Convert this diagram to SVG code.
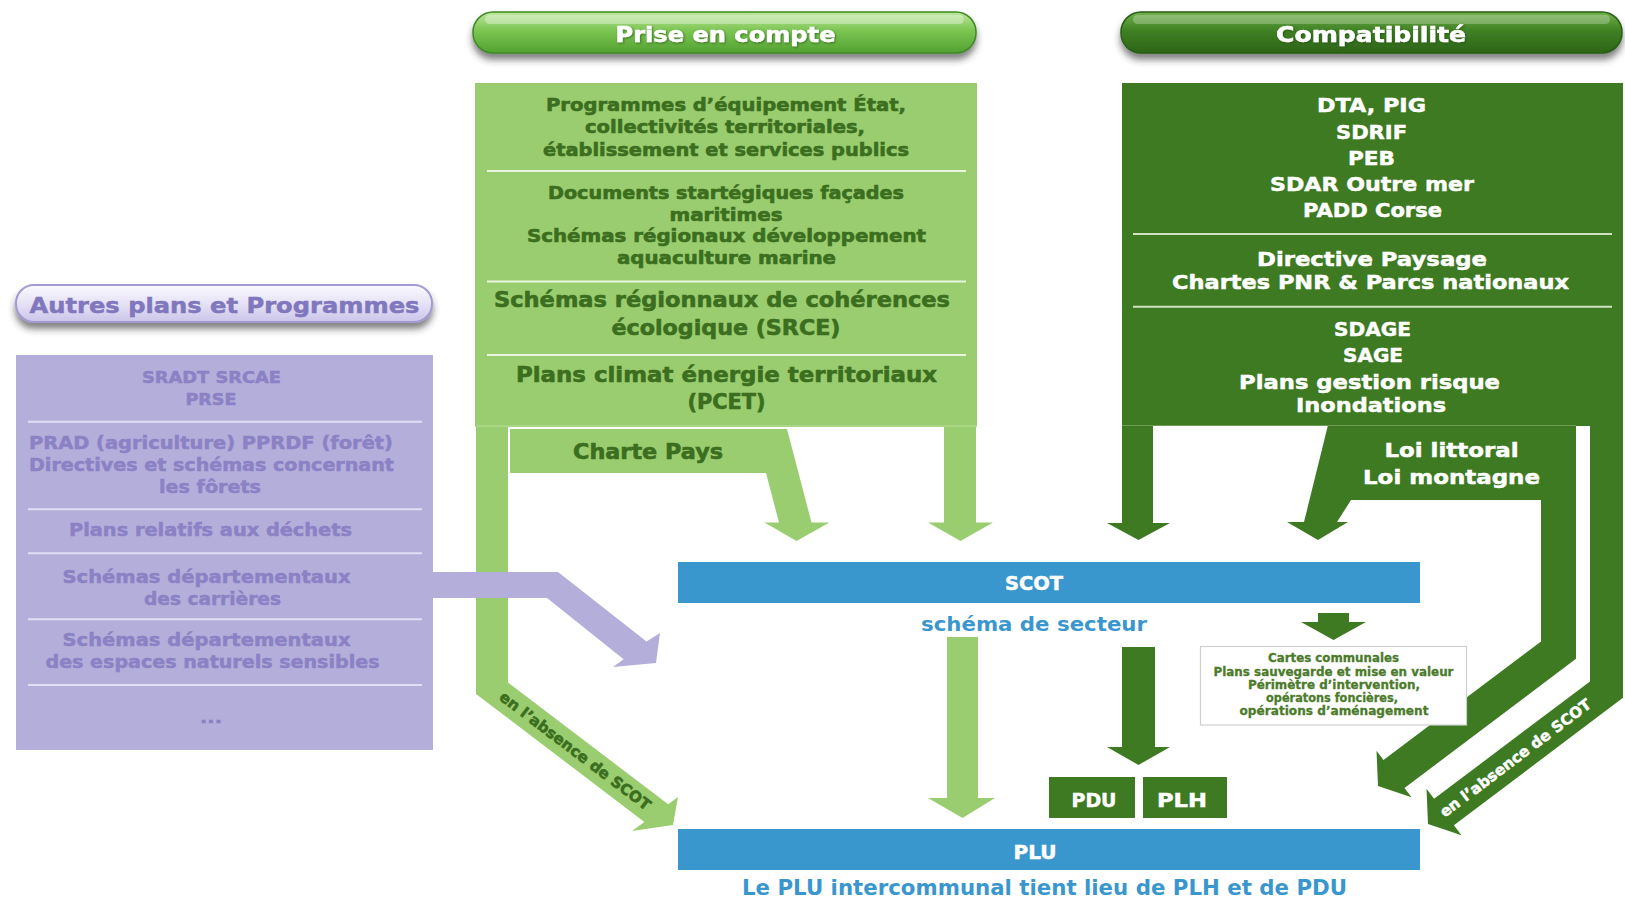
<svg xmlns="http://www.w3.org/2000/svg" width="1625" height="898" viewBox="0 0 1625 898">
<defs>
<linearGradient id="gLight" x1="0" y1="0" x2="0" y2="1">
<stop offset="0" stop-color="#BDE79C"/><stop offset="0.45" stop-color="#7CC552"/><stop offset="1" stop-color="#52A232"/>
</linearGradient>
<linearGradient id="gDark" x1="0" y1="0" x2="0" y2="1">
<stop offset="0" stop-color="#72B14C"/><stop offset="0.45" stop-color="#3F8123"/><stop offset="1" stop-color="#2D6417"/>
</linearGradient>
<linearGradient id="gPurple" x1="0" y1="0" x2="0" y2="1">
<stop offset="0" stop-color="#FBFAFE"/><stop offset="0.5" stop-color="#E6E2F5"/><stop offset="1" stop-color="#CBC5E9"/>
</linearGradient>
<filter id="shadow" x="-10%" y="-30%" width="120%" height="190%">
<feDropShadow dx="0" dy="6" stdDeviation="3.5" flood-color="#2a2a2a" flood-opacity="0.6"/>
</filter>
<filter id="tshadow" x="-5%" y="-20%" width="110%" height="150%">
<feDropShadow dx="1" dy="1" stdDeviation="0.8" flood-color="#1d3d0d" flood-opacity="0.6"/>
</filter>
<style>
text{font-family:"DejaVu Sans","Liberation Sans",sans-serif;font-weight:bold;text-anchor:middle}
.lg{fill:#9ACD6F}
.dg{fill:#3D7A22}
.pu{fill:#B4AEDB}
.bl{fill:#3A97CE}
.tlg{fill:#3B6E1E;stroke:#3B6E1E;stroke-width:0.6}
.tw{fill:#FFFFFF;stroke:#FFFFFF;stroke-width:0.5}
.tpu{fill:#8B81C4;stroke:#8B81C4;stroke-width:0.5}
.tcc{fill:#4B7B2B;stroke:#4B7B2B;stroke-width:0.3}
.sepL{stroke:#EAF5E0;stroke-width:2}
.sepD{stroke:#CFE3C0;stroke-width:2}
.sepP{stroke:#E2DEF3;stroke-width:2}
</style>
</defs>
<rect width="1625" height="898" fill="#FFFFFF"/>

<!-- header pills -->
<g id="pill-prise">
<rect x="473" y="12" width="503" height="41" rx="20" fill="url(#gLight)" stroke="#3F8A25" stroke-width="1.5" filter="url(#shadow)"/>
<rect x="485" y="15" width="479" height="9" rx="4.5" fill="#FFFFFF" opacity="0.35"/>
<text x="725.5" y="41.5" font-size="21" textLength="220" lengthAdjust="spacingAndGlyphs" class="tw" filter="url(#tshadow)">Prise en compte</text>
</g>
<g id="pill-compat">
<rect x="1121" y="12" width="501" height="41" rx="20" fill="url(#gDark)" stroke="#2A5E16" stroke-width="1.5" filter="url(#shadow)"/>
<rect x="1133" y="15" width="477" height="9" rx="4.5" fill="#FFFFFF" opacity="0.25"/>
<text x="1371" y="41.5" font-size="21" textLength="190" lengthAdjust="spacingAndGlyphs" class="tw" filter="url(#tshadow)">Compatibilité</text>
</g>
<g id="pill-autres">
<rect x="16" y="285" width="416" height="37" rx="18" fill="url(#gPurple)" stroke="#A29AD2" stroke-width="2" filter="url(#shadow)"/>
<text x="224.5" y="312.5" font-size="22" textLength="390" lengthAdjust="spacingAndGlyphs" fill="#8077BD" stroke="#8077BD" stroke-width="0.5">Autres plans et Programmes</text>
</g>

<!-- connectors -->
<g id="connectors">
<polygon class="lg" points="476,426 508,426 508,682.5 668.2,804.3 678,797 673,825 632,831 644.4,821.9 476,694"/>
<polygon class="lg" points="510,429 787,429 811.5,522.5 829.5,522.5 796.5,541 764.5,522.5 779,522.5 766,473 510,473"/>
<polygon class="lg" points="944,426 976,426 976,522.5 993,522.5 960.5,541 928,522.5 944,522.5"/>
<polygon class="lg" points="947,637 978,637 978,798 995,798 962.5,818 928,798 947,798"/>
<polygon class="pu" points="433,572 558,572 646.5,641.6 660,633 656,663 613,667 623.6,659.3 547,598 433,598"/>
<polygon class="dg" points="1122,425 1153,425 1153,523 1170,523 1138.5,540 1107,523 1122,523"/>
<polygon class="dg" points="1328,425 1576,425 1576,658.8 1404.5,788 1411.5,797.2 1378,786 1376.5,750.8 1383.5,760 1541,641.4 1541,500 1351,500 1337,522 1348,522 1318,540 1287,522 1304,522"/>
<polygon class="dg" points="1590,425 1623,425 1623,697.8 1453.9,825.2 1461.5,835.2 1428,824 1426.5,788.8 1434.1,798.8 1590,681.4"/>
<polygon class="dg" points="1122,647 1155,647 1155,747 1170,747 1138.5,765 1107,747 1122,747"/>
<polygon class="dg" points="1318,613 1349,613 1349,622 1366,622 1333.5,640 1301,622 1318,622"/>
<text transform="translate(575,751) rotate(37.2)" x="0" y="5" font-size="15" textLength="185" lengthAdjust="spacingAndGlyphs" class="tlg">en l’absence de SCOT</text>
<text transform="translate(1515.5,758.2) rotate(-37)" x="0" y="5" font-size="15" textLength="185" lengthAdjust="spacingAndGlyphs" class="tw">en l’absence de SCOT</text>
<text x="648" y="459" font-size="21" textLength="150" lengthAdjust="spacingAndGlyphs" class="tlg">Charte Pays</text>
<text x="1451.5" y="457" font-size="20" textLength="134" lengthAdjust="spacingAndGlyphs" class="tw">Loi littoral</text>
<text x="1451.5" y="483.5" font-size="20" textLength="177" lengthAdjust="spacingAndGlyphs" class="tw">Loi montagne</text>
</g>

<!-- light green box -->
<g id="prise-box">
<rect x="475" y="83" width="502" height="344" class="lg"/>
<line x1="476" y1="426" x2="977" y2="426" stroke="#B9DF9C" stroke-width="1"/>
<line x1="487" y1="171" x2="966" y2="171" class="sepL"/>
<line x1="487" y1="281.5" x2="966" y2="281.5" class="sepL"/>
<line x1="487" y1="355" x2="966" y2="355" class="sepL"/>
<g class="tlg">
<text x="726" y="111" font-size="18" textLength="360" lengthAdjust="spacingAndGlyphs">Programmes d’équipement État,</text>
<text x="725" y="133" font-size="18" textLength="280" lengthAdjust="spacingAndGlyphs">collectivités territoriales,</text>
<text x="726" y="156" font-size="18" textLength="366" lengthAdjust="spacingAndGlyphs">établissement et services publics</text>
<text x="726" y="199" font-size="17" textLength="356" lengthAdjust="spacingAndGlyphs">Documents startégiques façades</text>
<text x="726" y="220.5" font-size="17" textLength="113" lengthAdjust="spacingAndGlyphs">maritimes</text>
<text x="726.5" y="242" font-size="17" textLength="399" lengthAdjust="spacingAndGlyphs">Schémas régionaux développement</text>
<text x="726.5" y="263.5" font-size="17" textLength="219" lengthAdjust="spacingAndGlyphs">aquaculture marine</text>
<text x="722" y="307" font-size="21" textLength="456" lengthAdjust="spacingAndGlyphs">Schémas régionnaux de cohérences</text>
<text x="726" y="335" font-size="21" textLength="229" lengthAdjust="spacingAndGlyphs">écologique (SRCE)</text>
<text x="726.5" y="382" font-size="21" textLength="421" lengthAdjust="spacingAndGlyphs">Plans climat énergie territoriaux</text>
<text x="726.5" y="408.5" font-size="21" textLength="78" lengthAdjust="spacingAndGlyphs">(PCET)</text>
</g>
</g>

<!-- dark green box -->
<g id="compat-box">
<rect x="1122" y="83" width="501" height="343" class="dg"/>
<line x1="1122" y1="425.5" x2="1576" y2="425.5" stroke="#6E9C55" stroke-width="1"/>
<line x1="1133" y1="234" x2="1612" y2="234" class="sepD"/>
<line x1="1133" y1="306.7" x2="1612" y2="306.7" class="sepD"/>
<g class="tw">
<text x="1371.5" y="112" font-size="20" textLength="109" lengthAdjust="spacingAndGlyphs">DTA, PIG</text>
<text x="1371.5" y="138.5" font-size="20" textLength="71" lengthAdjust="spacingAndGlyphs">SDRIF</text>
<text x="1371.5" y="164.5" font-size="20" textLength="47" lengthAdjust="spacingAndGlyphs">PEB</text>
<text x="1372" y="190.5" font-size="20" textLength="204" lengthAdjust="spacingAndGlyphs">SDAR Outre mer</text>
<text x="1372.5" y="216.5" font-size="20" textLength="139" lengthAdjust="spacingAndGlyphs">PADD Corse</text>
<text x="1372" y="265.5" font-size="20" textLength="230" lengthAdjust="spacingAndGlyphs">Directive Paysage</text>
<text x="1370.5" y="289" font-size="20" textLength="397" lengthAdjust="spacingAndGlyphs">Chartes PNR &amp; Parcs nationaux</text>
<text x="1372.5" y="335.5" font-size="20" textLength="77" lengthAdjust="spacingAndGlyphs">SDAGE</text>
<text x="1373" y="362" font-size="20" textLength="60" lengthAdjust="spacingAndGlyphs">SAGE</text>
<text x="1369.5" y="389" font-size="20" textLength="261" lengthAdjust="spacingAndGlyphs">Plans gestion risque</text>
<text x="1371" y="412" font-size="20" textLength="150" lengthAdjust="spacingAndGlyphs">Inondations</text>
</g>
</g>

<!-- purple box -->
<g id="autres-box">
<rect x="16" y="355" width="417" height="395" class="pu"/>
<line x1="28" y1="421.7" x2="422" y2="421.7" class="sepP"/>
<line x1="28" y1="509.3" x2="422" y2="509.3" class="sepP"/>
<line x1="28" y1="553.3" x2="422" y2="553.3" class="sepP"/>
<line x1="28" y1="619.3" x2="422" y2="619.3" class="sepP"/>
<line x1="28" y1="685" x2="422" y2="685" class="sepP"/>
<g class="tpu">
<text x="211.5" y="382.5" font-size="16" textLength="139" lengthAdjust="spacingAndGlyphs">SRADT SRCAE</text>
<text x="211" y="405" font-size="16" textLength="51" lengthAdjust="spacingAndGlyphs">PRSE</text>
<text x="211" y="449" font-size="18" textLength="364" lengthAdjust="spacingAndGlyphs">PRAD (agriculture) PPRDF (forêt)</text>
<text x="211.5" y="471" font-size="18" textLength="365" lengthAdjust="spacingAndGlyphs">Directives et schémas concernant</text>
<text x="210" y="492.5" font-size="18" textLength="102" lengthAdjust="spacingAndGlyphs">les fôrets</text>
<text x="210.5" y="536" font-size="18" textLength="283" lengthAdjust="spacingAndGlyphs">Plans relatifs aux déchets</text>
<text x="206.5" y="582.5" font-size="18" textLength="288" lengthAdjust="spacingAndGlyphs">Schémas départementaux</text>
<text x="212.5" y="605" font-size="18" textLength="137" lengthAdjust="spacingAndGlyphs">des carrières</text>
<text x="206.5" y="646" font-size="18" textLength="288" lengthAdjust="spacingAndGlyphs">Schémas départementaux</text>
<text x="212.5" y="667.5" font-size="18" textLength="334" lengthAdjust="spacingAndGlyphs">des espaces naturels sensibles</text>
<text x="211" y="723" font-size="16" textLength="22" lengthAdjust="spacingAndGlyphs">...</text>
</g>
</g>

<!-- SCOT -->
<g id="scot">
<rect x="678" y="562" width="742" height="41" class="bl"/>
<text x="1034" y="590" font-size="20" textLength="58" lengthAdjust="spacingAndGlyphs" class="tw">SCOT</text>
<text x="1034" y="631" font-size="20" textLength="226" lengthAdjust="spacingAndGlyphs" fill="#3A97CE" font-weight="600">schéma de secteur</text>
</g>

<!-- Cartes communales -->
<g id="cartes">
<rect x="1200.5" y="646.5" width="266" height="78.5" fill="#FFFFFF" stroke="#CFCFCF" stroke-width="1.2"/>
<g class="tcc">
<text x="1333.5" y="662" font-size="12" textLength="131" lengthAdjust="spacingAndGlyphs">Cartes communales</text>
<text x="1333.5" y="676" font-size="12" textLength="240" lengthAdjust="spacingAndGlyphs">Plans sauvegarde et mise en valeur</text>
<text x="1334" y="689" font-size="12" textLength="172" lengthAdjust="spacingAndGlyphs">Périmètre d’intervention,</text>
<text x="1332" y="701.5" font-size="12" textLength="132" lengthAdjust="spacingAndGlyphs">opératons foncières,</text>
<text x="1334" y="714.5" font-size="12" textLength="189" lengthAdjust="spacingAndGlyphs">opérations d’aménagement</text>
</g>
</g>

<!-- PDU / PLH -->
<g id="pdu">
<rect x="1049" y="777" width="86" height="41" class="dg"/>
<text x="1094" y="807" font-size="20" textLength="45" lengthAdjust="spacingAndGlyphs" class="tw">PDU</text>
</g>
<g id="plh">
<rect x="1143" y="777" width="84" height="41" class="dg"/>
<text x="1182" y="807" font-size="20" textLength="50" lengthAdjust="spacingAndGlyphs" class="tw">PLH</text>
</g>

<!-- PLU -->
<g id="plu">
<rect x="678" y="829" width="742" height="41" class="bl"/>
<text x="1035" y="858.5" font-size="20" textLength="43" lengthAdjust="spacingAndGlyphs" class="tw">PLU</text>
<text x="1044.5" y="895" font-size="21" textLength="605" lengthAdjust="spacingAndGlyphs" fill="#3A97CE" font-weight="600">Le PLU intercommunal tient lieu de PLH et de PDU</text>
</g>
</svg>
